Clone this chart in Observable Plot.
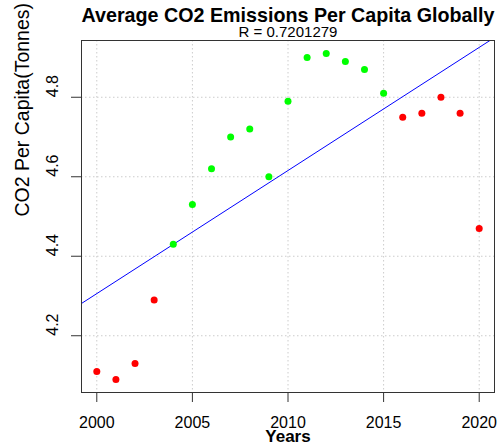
<!DOCTYPE html>
<html><head><meta charset="utf-8">
<script src="https://cdn.jsdelivr.net/npm/d3@7"></script>
<script src="https://cdn.jsdelivr.net/npm/@observablehq/plot@0.6"></script>
<style>body{margin:0;background:#fff}</style>
</head><body><div id="chart"></div>
<script>
const years = [2000,2001,2002,2003,2004,2005,2006,2007,2008,2009,2010,2011,2012,2013,2014,2015,2016,2017,2018,2019,2020];
const co2 = [4.11,4.09,4.13,4.29,4.43,4.53,4.62,4.70,4.72,4.60,4.79,4.90,4.91,4.89,4.87,4.81,4.75,4.76,4.80,4.76,4.47];
const groups = ["below","below","below","below","above","above","above","above","above","above","above","above","above","above","above","above","below","below","below","below","below"];
const xTicks = [2000,2005,2010,2015,2020];
const yTicks = [4.2,4.4,4.6,4.8];
const title = "Average CO2 Emissions Per Capita Globally";
const subtitle = "R = 0.7201279";
const xLabel = "Years";
const yLabel = "CO2 Per Capita(Tonnes)";

const data = years.map((x,i)=>({year:x, value:co2[i], group:groups[i]}));
const pad = e => { const r = e[1]-e[0]; return [e[0]-0.04*r, e[1]+0.04*r]; };
const xDom = pad(d3.extent(years));
const yDom = pad(d3.extent(co2));
const mx = d3.mean(years), my = d3.mean(co2);
const slope = d3.sum(years.map((x,i)=>(x-mx)*(co2[i]-my))) / d3.sum(years.map(x=>(x-mx)**2));
const fit = xDom.map(x => ({year:x, value: my + slope*(x-mx)}));

const font = "Liberation Sans, Arial, sans-serif";
const grid = {stroke:"#cccccc", strokeOpacity:1, strokeDasharray:"1.5,2.5"};
const chart = Plot.plot({
  width:497, height:447, marginLeft:81, marginRight:3, marginTop:40, marginBottom:55,
  style:{fontFamily:font, fontSize:"16px", color:"#000", background:"#fff"},
  x:{domain:xDom}, y:{domain:yDom},
  color:{domain:["below","above"], range:["#ff0000","#00ff00"]},
  marks:[
    Plot.gridX(xTicks, grid),
    Plot.gridY(yTicks, grid),
    Plot.line(fit, {x:"year", y:"value", stroke:"#0000ff", strokeWidth:1, clip:true}),
    Plot.dot(data, {x:"year", y:"value", fill:"group", r:3.5}),
    Plot.frame({stroke:"#333"}),
    Plot.axisX(xTicks, {tickSize:10, tickPadding:14, tickFormat:"d", label:null, fontSize:16, stroke:"#333"}),
    Plot.axisY(yTicks, {tickSize:10, tickFormat:() => "", label:null, stroke:"#333"}),
    Plot.text(yTicks, {y:d => d, text:d => d3.format(".1f")(d), frameAnchor:"left", rotate:-90, dx:-29, fontSize:16, fill:"#000"}),
    Plot.text([title], {frameAnchor:"top", lineAnchor:"bottom", dy:-18.5, fontWeight:"bold", fontSize:19.7, fill:"#000"}),
    Plot.text([subtitle], {frameAnchor:"top", lineAnchor:"bottom", dy:-3.5, fontSize:15, fill:"#000"}),
    Plot.text([xLabel], {frameAnchor:"bottom", lineAnchor:"bottom", dy:49, fontWeight:"bold", fontSize:17, fill:"#000"}),
    Plot.text([yLabel], {frameAnchor:"left", rotate:-90, dx:-59, fontSize:19.5, fill:"#000"})
  ]
});
document.getElementById("chart").append(chart);
</script>
</body></html>
